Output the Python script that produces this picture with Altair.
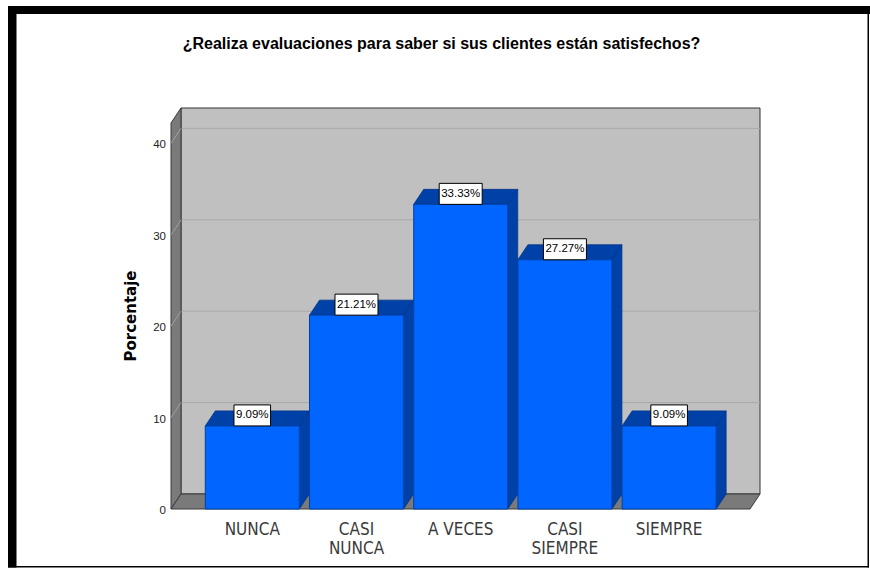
import altair as alt
import pandas as pd

# ---------------- data ----------------
categories = ["NUNCA", "CASI NUNCA", "A VECES", "CASI SIEMPRE", "SIEMPRE"]
percentages = [9.09, 21.21, 33.33, 27.27, 9.09]
y_ticks = [0, 10, 20, 30, 40]
title_text = "¿Realiza evaluaciones para saber si sus clientes están satisfechos?"
y_title = "Porcentaje"

# ---------------- geometry (scale units) ----------------
W, H = 589, 401
PX_PER_X = 104.21
PX_PER_Y = 9.14
XMIN = -0.780
XMAX = XMIN + W / PX_PER_X
YMAX = H / PX_PER_Y
DX = 10 / PX_PER_X          # 3D depth, horizontal
DY = 15 / PX_PER_Y          # 3D depth, vertical
HW = 47 / PX_PER_X          # half bar width
BOX_H = 21 / PX_PER_Y

FRONT = "#0066FF"
DARK = "#0041A8"
WALL_BACK = "#C0C0C0"
WALL_SIDE = "#7A7A7A"
GRID = "#A8A8A8"

xs = alt.Scale(domain=[XMIN, XMAX], nice=False, zero=False)
ys = alt.Scale(domain=[0, YMAX], nice=False, zero=False)

# Arial-like glyph widths (em) for label boxes
CW = {c: 0.556 for c in "0123456789"}
CW.update({".": 0.278, "%": 0.889})
LABEL_FS = 11.5

bars = pd.DataFrame({"cat": categories, "val": percentages})
bars["idx"] = range(len(bars))
bars["xl"] = bars["idx"] - HW
bars["xr"] = bars["idx"] + HW
bars["base"] = 0.0
bars["label"] = [f"{v:.2f}%" for v in percentages]
bars["bw"] = [(sum(CW[c] for c in s) * LABEL_FS + 4) / PX_PER_X / 2 for s in bars["label"]]
bars["bl"] = bars["idx"] - bars["bw"]
bars["br"] = bars["idx"] + bars["bw"]
bars["btop"] = bars["val"] + BOX_H
bars["disp"] = [c.replace("CASI ", "CASI\n") for c in categories]

# top and side faces of each bar
rows = []
for i, v in enumerate(percentages):
    xl, xr = i - HW, i + HW
    for x, lo, hi in [(xl, v, v), (xl + DX, v, v + DY), (xr, v, v + DY), (xr + DX, v + DY, v + DY)]:
        rows.append(dict(key=f"t{i}", x=x, lo=lo, hi=hi))
    for x, lo, hi in [(xr, 0, v), (xr + DX, DY, v + DY)]:
        rows.append(dict(key=f"s{i}", x=x, lo=lo, hi=hi))
faces = pd.DataFrame(rows)

walls = pd.DataFrame([
    dict(key="L", x=XMIN, lo=0, hi=YMAX - DY),
    dict(key="L", x=XMIN + DX, lo=DY, hi=YMAX),
    dict(key="F", x=XMIN, lo=0, hi=0),
    dict(key="F", x=XMIN + DX, lo=0, hi=DY),
    dict(key="F", x=XMAX - DX, lo=0, hi=DY),
    dict(key="F", x=XMAX, lo=DY, hi=DY),
])
back = pd.DataFrame([dict(x=XMIN + DX, x2=XMAX, y=DY, y2=YMAX)])
grid = pd.DataFrame({"v": y_ticks[1:]})
grid["vb"] = grid["v"] + DY
grid["x0"] = XMIN
grid["x1"] = XMIN + DX
grid["x2"] = XMAX
ticks = pd.DataFrame({"v": y_ticks})
ticks["t"] = [str(v) for v in y_ticks]

# ---------------- layers ----------------
back_wall = alt.Chart(back).mark_rect(fill=WALL_BACK, stroke="#333333", strokeWidth=1).encode(
    x=alt.X("x:Q", scale=xs, axis=None), x2="x2:Q",
    y=alt.Y("y:Q", scale=ys, axis=None), y2="y2:Q")

back_grid = alt.Chart(grid).mark_rule(color=GRID, strokeWidth=1).encode(
    x=alt.X("x1:Q", scale=xs, axis=None), x2="x2:Q",
    y=alt.Y("vb:Q", scale=ys, axis=None))

side_walls = alt.Chart(walls).mark_area(fill=WALL_SIDE, stroke="#3a3a3a", strokeWidth=1, opacity=1).encode(
    x=alt.X("x:Q", scale=xs, axis=None),
    y=alt.Y("lo:Q", scale=ys, axis=None), y2="hi:Q",
    detail="key:N")

side_grid = alt.Chart(grid).mark_rule(color="#A0A0A0", strokeWidth=1).encode(
    x=alt.X("x0:Q", scale=xs, axis=None), x2="x1:Q",
    y=alt.Y("v:Q", scale=ys, axis=None), y2="vb:Q")

bar_faces = alt.Chart(faces).mark_area(fill=DARK, stroke="#00338A", strokeWidth=0.8, opacity=1).encode(
    x=alt.X("x:Q", scale=xs, axis=None),
    y=alt.Y("lo:Q", scale=ys, axis=None), y2="hi:Q",
    detail="key:N")

front = alt.Chart(bars).mark_rect(fill=FRONT, stroke=DARK, strokeWidth=1).encode(
    x=alt.X("xl:Q", scale=xs, axis=None), x2="xr:Q",
    y=alt.Y("val:Q", scale=ys, axis=None), y2="base:Q")

boxes = alt.Chart(bars).mark_rect(fill="white", stroke="#000000", strokeWidth=1).encode(
    x=alt.X("bl:Q", scale=xs, axis=None), x2="br:Q",
    y=alt.Y("val:Q", scale=ys, axis=None), y2="btop:Q")

box_text = alt.Chart(bars).mark_text(font="Liberation Sans", fontSize=LABEL_FS, color="#000000",
                                     baseline="middle", dy=-10.5).encode(
    x=alt.X("idx:Q", scale=xs, axis=None),
    y=alt.Y("val:Q", scale=ys, axis=None),
    text="label:N")

x_labels = alt.Chart(bars).mark_text(font="DejaVu Sans Condensed, Liberation Sans", fontSize=17,
                                     color="#3a3a3a", baseline="alphabetic", lineBreak="\n",
                                     lineHeight=19).encode(
    x=alt.X("idx:Q", scale=xs, axis=None),
    y=alt.value(427),
    text="disp:N")

y_labels = alt.Chart(ticks).mark_text(font="Liberation Sans", fontSize=11.5, color="#222222",
                                      align="right", baseline="middle", dy=2).encode(
    x=alt.value(-5),
    y=alt.Y("v:Q", scale=ys, axis=None),
    text="t:N")

y_title_mark = alt.Chart(pd.DataFrame({"t": [y_title]})).mark_text(
    font="DejaVu Sans", fontSize=15, fontWeight="bold", color="#000000",
    angle=270, align="center", baseline="middle").encode(
    x=alt.value(-40), y=alt.value(208), text="t:N")

title = alt.Chart(pd.DataFrame({"t": [title_text]})).mark_text(
    font="Liberation Sans", fontSize=16, fontWeight="bold", color="#000000",
    baseline="alphabetic", align="center").encode(
    x=alt.value(270.5), y=alt.value(-59.3), text="t:N")

frame_top = alt.Chart(pd.DataFrame({"a": [0]})).mark_rect(color="black").encode(
    x=alt.value(-163), x2=alt.value(699), y=alt.value(-102), y2=alt.value(-94))
frame_left = alt.Chart(pd.DataFrame({"a": [0]})).mark_rect(color="black").encode(
    x=alt.value(-163), x2=alt.value(-154.5), y=alt.value(-102), y2=alt.value(459.5))
frame_bottom = alt.Chart(pd.DataFrame({"a": [0]})).mark_rect(color="black").encode(
    x=alt.value(-163), x2=alt.value(698), y=alt.value(458), y2=alt.value(459.5))
frame_right = alt.Chart(pd.DataFrame({"a": [0]})).mark_rect(color="black").encode(
    x=alt.value(696.5), x2=alt.value(698), y=alt.value(-94), y2=alt.value(459.5))

chart = alt.layer(
    back_wall, back_grid, side_walls, side_grid, bar_faces, front,
    boxes, box_text, x_labels, y_labels, y_title_mark, title,
    frame_top, frame_left, frame_bottom, frame_right,
).properties(
    width=W, height=H,
    padding={"left": 171, "top": 108, "right": 110, "bottom": 60},
    autosize=alt.AutoSizeParams(type="none"),
    background="white",
).configure_view(stroke=None)

chart.save("out.html", embed_options={"renderer": "svg", "actions": False})
